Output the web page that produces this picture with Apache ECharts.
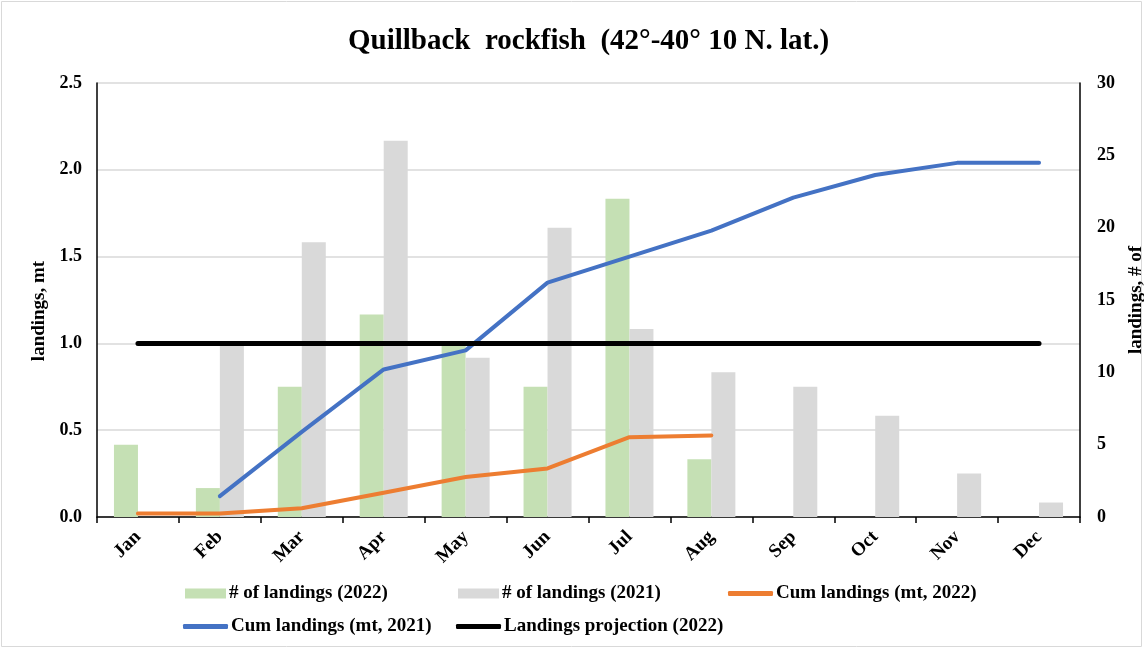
<!DOCTYPE html>
<html lang="en">
<head>
    <meta charset="UTF-8">
    <title>Quillback rockfish</title>
    <script type="text/javascript" src="https://cdn.jsdelivr.net/npm/echarts@6/dist/echarts.min.js"></script>
    <style>
        html, body { margin: 0; padding: 0; background: #fff; }
        #main { width: 1144px; height: 649px; }
    </style>
</head>
<body>
<div id="main"></div>
<script>
    var months = ['Jan', 'Feb', 'Mar', 'Apr', 'May', 'Jun', 'Jul', 'Aug', 'Sep', 'Oct', 'Nov', 'Dec'];
    var landings2022 = [5, 2, 9, 14, 12, 9, 22, 4, 0, 0, 0, 0];
    var landings2021 = [0, 12, 19, 26, 11, 20, 13, 10, 9, 7, 3, 1];
    var cum2022 = [0.02, 0.02, 0.05, 0.14, 0.23, 0.28, 0.46, 0.47, null, null, null, null];
    var cum2021 = [null, 0.12, 0.49, 0.85, 0.96, 1.35, 1.50, 1.65, 1.84, 1.97, 2.04, 2.04];
    var projection = [1, 1, 1, 1, 1, 1, 1, 1, 1, 1, 1, 1];

    var serif = '"Liberation Serif", "Times New Roman", serif';
    var txt = {fontFamily: serif, fontWeight: 'bold', fontSize: 18, color: '#000'};

    // one legend per item so each sits where Excel put it
    function legendAt(name, left, top, isLine) {
        return {
            data: [{name: name, icon: isLine ? 'roundRect' : 'rect'}],
            left: left, top: top,
            itemWidth: isLine ? 45 : 41,
            itemHeight: isLine ? 5 : 10,
            textStyle: {fontFamily: serif, fontWeight: 'bold', fontSize: 19, color: '#000', padding: [0, 0, 0, -2]}
        };
    }

    var myChart = echarts.init(document.getElementById('main'));
    var option = {
        animation: false,
        title: {
            text: 'Quillback  rockfish  (42°-40° 10 N. lat.)',
            left: 343,
            top: 22,
            textStyle: {fontFamily: serif, fontWeight: 'bold', fontSize: 29, color: '#000'}
        },
        graphic: [{
            type: 'rect',
            shape: {x: 1.5, y: 1.5, width: 1140, height: 645},
            style: {fill: 'none', stroke: '#d9d9d9', lineWidth: 1}
        }],
        legend: [
            legendAt('# of landings (2022)', 180, 579, false),
            legendAt('# of landings (2021)', 453, 579, false),
            legendAt('Cum landings (mt, 2022)', 723, 579, true),
            legendAt('Cum landings (mt, 2021)', 178, 612, true),
            legendAt('Landings projection (2022)', 451, 612, true)
        ],
        grid: {left: 97, right: 64, top: 83, bottom: 132, outerBoundsMode: 'none'},
        xAxis: {
            type: 'category',
            data: months,
            axisLine: {lineStyle: {color: '#000', width: 1.5}},
            axisTick: {show: true, length: 6, lineStyle: {color: '#000', width: 1.5}},
            axisLabel: Object.assign({rotate: 45, margin: 17, interval: 0}, txt, {fontSize: 19})
        },
        yAxis: [{
            type: 'value',
            min: 0, max: 2.5, interval: 0.5,
            name: 'landings, mt',
            nameLocation: 'middle',
            nameGap: 48,
            nameTextStyle: Object.assign({padding: [0, 22, 0, 0]}, txt, {fontSize: 19}),
            axisLine: {show: true, lineStyle: {color: '#000', width: 1.5}},
            axisTick: {show: false},
            axisLabel: Object.assign({margin: 15, formatter: function (v) { return v.toFixed(1); }}, txt),
            splitLine: {lineStyle: {color: '#d9d9d9', width: 1.5}}
        }, {
            type: 'value',
            min: 0, max: 30, interval: 5,
            name: 'landings, # of',
            nameLocation: 'middle',
            nameGap: 47,
            nameTextStyle: Object.assign({}, txt, {fontSize: 19}),
            axisLine: {show: true, lineStyle: {color: '#000', width: 1.5}},
            axisTick: {show: false},
            axisLabel: Object.assign({margin: 17}, txt),
            splitLine: {show: false}
        }],
        series: [{
            name: '# of landings (2022)',
            type: 'bar',
            yAxisIndex: 1,
            data: landings2022,
            barWidth: 24,
            barGap: '0%',
            itemStyle: {color: '#c5e0b4'}
        }, {
            name: '# of landings (2021)',
            type: 'bar',
            yAxisIndex: 1,
            data: landings2021,
            barWidth: 24,
            itemStyle: {color: '#d9d9d9'}
        }, {
            name: 'Cum landings (mt, 2022)',
            type: 'line',
            data: cum2022,
            symbol: 'none',
            lineStyle: {color: '#ed7d31', width: 4, cap: 'round', join: 'round'},
            itemStyle: {color: '#ed7d31'}
        }, {
            name: 'Cum landings (mt, 2021)',
            type: 'line',
            data: cum2021,
            symbol: 'none',
            lineStyle: {color: '#4472c4', width: 4, cap: 'round', join: 'round'},
            itemStyle: {color: '#4472c4'}
        }, {
            name: 'Landings projection (2022)',
            type: 'line',
            data: projection,
            symbol: 'none',
            lineStyle: {color: '#000', width: 5, cap: 'round'},
            itemStyle: {color: '#000'}
        }]
    };
    myChart.setOption(option);
</script>
</body>
</html>
